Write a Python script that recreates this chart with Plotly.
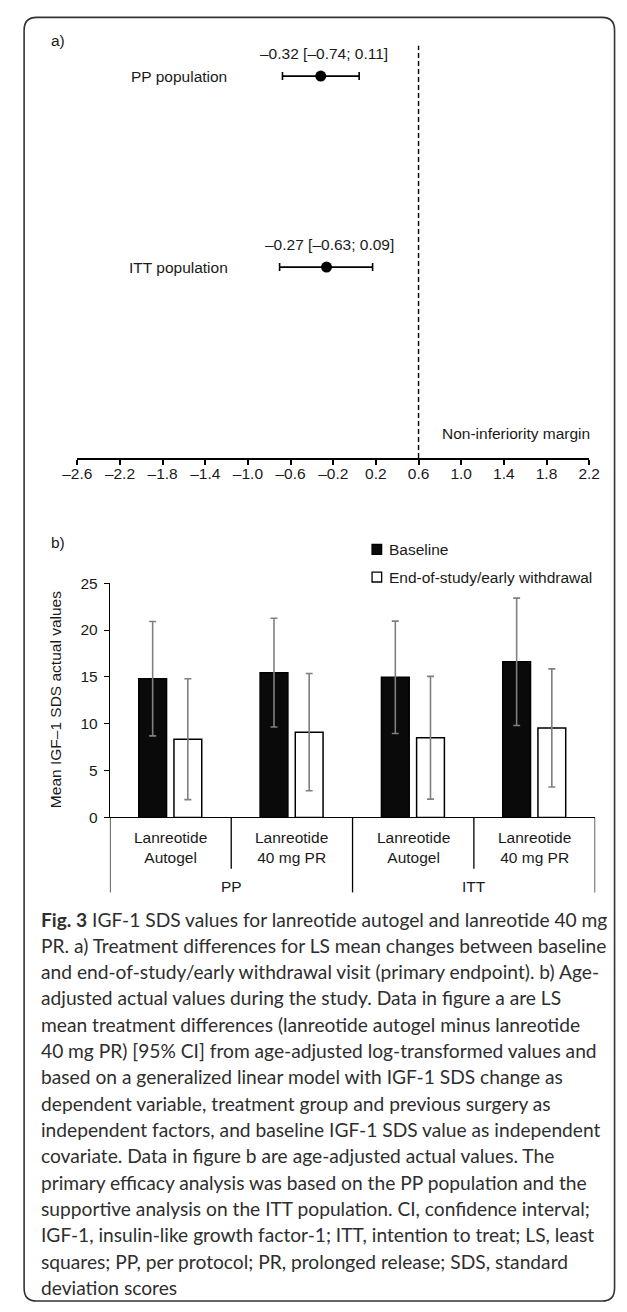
import plotly.graph_objects as go

W, H = 627, 1312

# ---------------- data ----------------
# panel a) forest plot
pop_labels = ["PP population", "ITT population"]
ls_mean_diff = [-0.317, -0.263]
ci_low_drawn = [-0.676, -0.703]
ci_high_drawn = [0.043, 0.169]
ci_text = ["\u20130.32 [\u20130.74; 0.11]", "\u20130.27 [\u20130.63; 0.09]"]
row_pos = [2, 1]
ni_margin = 0.6
x_ticks = [-2.6, -2.2, -1.8, -1.4, -1.0, -0.6, -0.2, 0.2, 0.6, 1.0, 1.4, 1.8, 2.2]

# panel b) bar chart
treatments = ["Lanreotide<br>Autogel", "Lanreotide<br>40 mg PR",
              "Lanreotide<br>Autogel", "Lanreotide<br>40 mg PR"]
populations = ["PP", "ITT"]
baseline_mean = [14.8, 15.45, 14.95, 16.6]
baseline_sd = [6.1, 5.8, 6.0, 6.8]
eos_mean = [8.35, 9.1, 8.5, 9.55]
eos_sd = [6.45, 6.25, 6.55, 6.3]
series_names = ["Baseline", "End-of-study/early withdrawal"]
y_ticks = [0, 5, 10, 15, 20, 25]

caption_lines = [
    "<b>Fig. 3</b> IGF-1 SDS values for lanreotide autogel and lanreotide 40\u202fmg",
    "PR. a) Treatment differences for LS mean changes between baseline",
    "and end-of-study/early withdrawal visit (primary endpoint). b) Age-",
    "adjusted actual values during the study. Data in figure a are LS",
    "mean treatment differences (lanreotide autogel minus lanreotide",
    "40\u202fmg PR) [95% CI] from age-adjusted log-transformed values and",
    "based on a generalized linear model with IGF-1 SDS change as",
    "dependent variable, treatment group and previous surgery as",
    "independent factors, and baseline IGF-1 SDS value as independent",
    "covariate. Data in figure b are age-adjusted actual values. The",
    "primary efficacy analysis was based on the PP population and the",
    "supportive analysis on the ITT population. CI, confidence interval;",
    "IGF-1, insulin-like growth factor-1; ITT, intention to treat; LS, least",
    "squares; PP, per protocol; PR, prolonged release; SDS, standard",
    "deviation scores",
]

# ---------------- helpers ----------------
def px(x):
    return x / W

def py(y):
    return 1 - y / H

FONT = "Liberation Sans, Arial, sans-serif"
TXT = "#1a1a1a"
FS = 15.5

fig = go.Figure()

# forest plot
fig.add_trace(go.Scatter(
    x=ls_mean_diff, y=row_pos, mode="markers",
    marker=dict(color="black", size=11),
    error_x=dict(type="data", symmetric=False,
                 array=[h - m for h, m in zip(ci_high_drawn, ls_mean_diff)],
                 arrayminus=[m - l for m, l in zip(ls_mean_diff, ci_low_drawn)],
                 color="black", thickness=1.6, width=4),
    xaxis="x", yaxis="y", showlegend=False, hoverinfo="skip"))

# bars
x_idx = list(range(len(treatments)))
fig.add_trace(go.Bar(
    x=x_idx, y=baseline_mean, name=series_names[0],
    offset=-0.262, width=0.229,
    marker=dict(color="#0a0a0a", line=dict(color="black", width=1.5)),
    error_y=dict(type="data", array=baseline_sd, color="#808080", thickness=1.6, width=3.5),
    xaxis="x2", yaxis="y2", showlegend=False))
fig.add_trace(go.Bar(
    x=x_idx, y=eos_mean, name=series_names[1],
    offset=0.028, width=0.229,
    marker=dict(color="white", line=dict(color="black", width=1.5)),
    error_y=dict(type="data", array=eos_sd, color="#808080", thickness=1.6, width=3.5),
    xaxis="x2", yaxis="y2", showlegend=False))

shapes = []
annotations = []

# dashed non-inferiority line
shapes.append(dict(type="line", xref="x", yref="y", x0=ni_margin, x1=ni_margin,
                   y0=0, y1=2.16, line=dict(color="black", width=1.4, dash="5px,3px")))

# labels panel a
annotations.append(dict(text="a)", xref="paper", yref="paper", x=px(35), y=py(32),
                        xanchor="left", yanchor="middle", showarrow=False,
                        font=dict(size=FS, color=TXT, family=FONT)))
for lab, txt, m, r in zip(pop_labels, ci_text, ls_mean_diff, row_pos):
    annotations.append(dict(text=txt, xref="x", yref="y", x=m, y=r, yshift=23, xshift=3,
                            xanchor="center", yanchor="middle", showarrow=False,
                            font=dict(size=FS, color=TXT, family=FONT)))
    annotations.append(dict(text=lab, xref="paper", yref="y", x=px(171), y=r,
                            xanchor="center", yanchor="middle", showarrow=False,
                            font=dict(size=FS, color=TXT, family=FONT)))
annotations.append(dict(text="Non-inferiority margin", xref="x", yref="paper",
                        x=ni_margin, xshift=21, y=py(430), xanchor="left", yanchor="middle",
                        showarrow=False, font=dict(size=FS, color=TXT, family=FONT)))

# panel b labels
annotations.append(dict(text="b)", xref="paper", yref="paper", x=px(35), y=py(540),
                        xanchor="left", yanchor="middle", showarrow=False,
                        font=dict(size=FS, color=TXT, family=FONT)))
annotations.append(dict(text="Mean IGF\u20131 SDS actual values", xref="paper", yref="paper",
                        x=px(43), y=py(700), textangle=-90, xanchor="center", yanchor="middle",
                        showarrow=False, font=dict(size=FS, color=TXT, family=FONT)))

# legend (manual)
leg_fill = ["#0a0a0a", "white"]
leg_y = [547.5, 575.5]
for name, fc, ly in zip(series_names, leg_fill, leg_y):
    shapes.append(dict(type="rect", xref="paper", yref="paper",
                       x0=px(372.5), x1=px(382.5), y0=py(ly - 5), y1=py(ly + 5),
                       fillcolor=fc, line=dict(color="black", width=1.3)))
    annotations.append(dict(text=name, xref="paper", yref="paper", x=px(388), y=py(ly),
                            xanchor="left", yanchor="middle", showarrow=False,
                            font=dict(size=FS, color=TXT, family=FONT)))

# category axis (two levels)
for i, t in enumerate(treatments):
    annotations.append(dict(text=t, xref="x2", yref="paper", x=i, y=py(850),
                            xanchor="center", yanchor="middle", showarrow=False,
                            font=dict(size=FS, color=TXT, family=FONT)))
n_per_pop = len(treatments) // len(populations)
for j, p in enumerate(populations):
    annotations.append(dict(text=p, xref="x2", yref="paper",
                            x=j * n_per_pop + (n_per_pop - 1) / 2, y=py(889),
                            xanchor="center", yanchor="middle", showarrow=False,
                            font=dict(size=FS, color=TXT, family=FONT)))
for k in range(len(treatments) + 1):
    xb = k - 0.5
    yb = 895 if k % n_per_pop == 0 else 871
    shapes.append(dict(type="line", xref="x2", yref="paper", x0=xb, x1=xb,
                       y0=py(819), y1=py(yb), line=dict(color="black", width=1.3)))

# caption
CAP_FONT = "Lato, Noto Sans, sans-serif"
for n, line in enumerate(caption_lines):
    annotations.append(dict(text=line, xref="paper", yref="paper", x=px(25),
                            y=py(922 + n * 26.65), xanchor="left", yanchor="middle",
                            showarrow=False, font=dict(size=19.2, color="#2e2e2e", family=CAP_FONT)))

# frame with rounded corners
L, T, R, B, r = 9.5, 8.5, 625.5, 1309, 13
path = (f"M {px(L)},{py(T + r)} Q {px(L)},{py(T)} {px(L + r)},{py(T)} "
        f"L {px(R - r)},{py(T)} Q {px(R)},{py(T)} {px(R)},{py(T + r)} "
        f"L {px(R)},{py(B - r)} Q {px(R)},{py(B)} {px(R - r)},{py(B)} "
        f"L {px(L + r)},{py(B)} Q {px(L)},{py(B)} {px(L)},{py(B - r)} Z")
shapes.append(dict(type="path", xref="paper", yref="paper", path=path,
                   line=dict(color="#333333", width=1.6), layer="below"))

fig.update_layout(
    width=W, height=H, margin=dict(l=0, r=0, t=0, b=0),
    paper_bgcolor="white", plot_bgcolor="rgba(0,0,0,0)",
    barmode="overlay", showlegend=False,
    font=dict(family=FONT, color=TXT, size=FS),
    xaxis=dict(domain=[px(65), px(599)], range=[-2.6, 2.2], anchor="y",
               showline=True, linecolor="black", linewidth=1.5,
               ticks="outside", ticklen=5, tickwidth=1.5, tickcolor="black",
               ticklabelstandoff=-4,
               tickvals=x_ticks,
               ticktext=[f"{v:.1f}".replace("-", "\u2013") for v in x_ticks],
               tickfont=dict(size=FS, color=TXT, family=FONT),
               showgrid=False, zeroline=False, fixedrange=True),
    yaxis=dict(domain=[py(455), py(37)], range=[0, 2.16], anchor="x",
               visible=False, fixedrange=True),
    xaxis2=dict(domain=[px(99), px(605.3)], range=[-0.5, 3.5], anchor="y2",
                showline=True, linecolor="black", linewidth=1.3,
                showticklabels=False, ticks="", showgrid=False, zeroline=False),
    yaxis2=dict(domain=[py(819), py(581.7)], range=[0, 25], anchor="x2",
                showline=True, linecolor="black", linewidth=1.3,
                ticks="outside", ticklen=5, tickwidth=1.3, tickcolor="black",
                ticklabelstandoff=3,
                tickvals=y_ticks, tickfont=dict(size=FS, color=TXT, family=FONT),
                showgrid=False, zeroline=False),
    shapes=shapes, annotations=annotations,
)

fig.write_html("out.html")
